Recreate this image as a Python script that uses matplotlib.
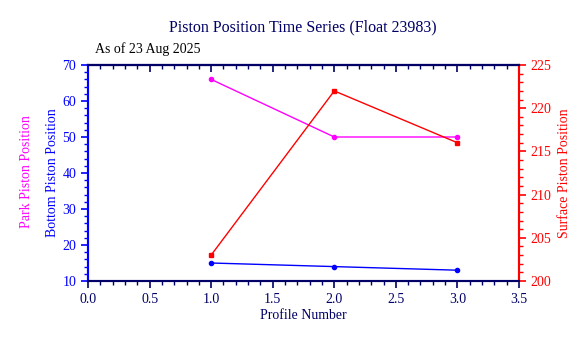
import matplotlib
matplotlib.use("Agg")
import matplotlib.pyplot as plt
from matplotlib.ticker import MultipleLocator, FormatStrFormatter, NullFormatter

plt.rcParams['font.family'] = ['Liberation Serif', 'DejaVu Serif']

profiles = [1, 2, 3]
park = [66, 50, 50]
bottom = [15, 14, 13]
surface = [203, 222, 216]

navy = '#000066'
fig = plt.figure(figsize=(5.88, 3.38), dpi=100)
ax = fig.add_axes([88/588, 57/338, 431/588, 216/338])
ax2 = ax.twinx()

ax.plot(profiles, park, color='#ff00ff', marker='o', ms=3, lw=1)
ax.plot(profiles, bottom, color='#0000ff', marker='o', ms=3, lw=1)
ax2.plot(profiles, surface, color='#ff0000', marker='s', ms=3, lw=1)

ax.set_xlim(0, 3.5)
ax.set_ylim(10, 70)
ax2.set_ylim(200, 225)
ax.xaxis.set_major_locator(MultipleLocator(0.5))
ax.xaxis.set_minor_locator(MultipleLocator(0.1))
ax.yaxis.set_major_locator(MultipleLocator(10))
ax.yaxis.set_minor_locator(MultipleLocator(2))
ax2.yaxis.set_major_locator(MultipleLocator(5))
ax2.yaxis.set_minor_locator(MultipleLocator(1))
ax.xaxis.set_major_formatter(FormatStrFormatter('%.1f'))

for a in (ax, ax2):
    a.spines['top'].set_color(navy)
    a.spines['bottom'].set_color(navy)
    a.spines['left'].set_color('#0000ff')
    a.spines['right'].set_color('#ff0000')
    for s in a.spines.values():
        s.set_linewidth(1.5)

ax.tick_params(axis='x', which='both', colors=navy, labelsize=10, direction='out')
ax.tick_params(axis='x', which='major', length=5, width=1.2)
ax.tick_params(axis='x', which='minor', length=3, width=1)
ax.tick_params(axis='y', which='both', colors='#0000ff', labelsize=10, direction='out')
ax.tick_params(axis='y', which='major', length=5, width=1.2)
ax.tick_params(axis='y', which='minor', length=3, width=1)
ax2.tick_params(axis='y', which='both', colors='#ff0000', labelsize=10, direction='out')
ax2.tick_params(axis='y', which='major', length=5, width=1.2)
ax2.tick_params(axis='y', which='minor', length=3, width=1)

top = ax.secondary_xaxis('top')
top.xaxis.set_major_locator(MultipleLocator(0.5))
top.xaxis.set_minor_locator(MultipleLocator(0.1))
top.xaxis.set_major_formatter(NullFormatter())
top.tick_params(axis='x', which='both', colors=navy, direction='in')
top.tick_params(axis='x', which='major', length=5, width=1.2)
top.tick_params(axis='x', which='minor', length=3, width=1)
top.spines['top'].set_color(navy)
top.spines['top'].set_linewidth(1.5)

ax.set_xlabel('Profile Number', color=navy, fontsize=10, labelpad=2)
fig.text(52/588, 1 - 173/338, 'Bottom Piston Position', color='#0000ff', fontsize=10,
         rotation=90, ha='center', va='center')
fig.text(27/588, 1 - 172/338, 'Park Piston Position', color='#ff00ff', fontsize=10,
         rotation=90, ha='center', va='center')
fig.text(565/588, 1 - 173/338, 'Surface Piston Position', color='#ff0000', fontsize=10,
         rotation=90, ha='center', va='center')

fig.text(303/588, 1 - 27/338, 'Piston Position Time Series (Float 23983)', color=navy,
         fontsize=11.5, ha='center', va='center')
fig.text(95/588, 1 - 49/338, 'As of 23 Aug 2025', color='black', fontsize=10,
         ha='left', va='center')

fig.savefig('out.png', dpi=100)
